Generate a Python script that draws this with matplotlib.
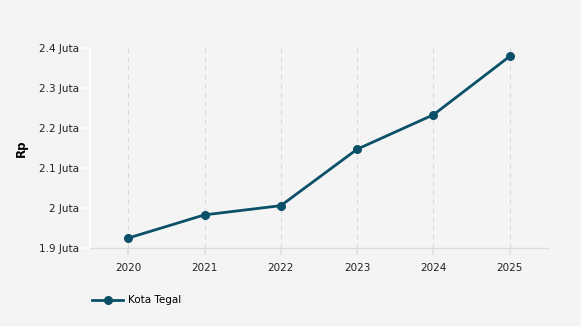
import matplotlib.pyplot as plt

years = [2020, 2021, 2022, 2023, 2024, 2025]
values = [1.925, 1.983, 2.006, 2.147, 2.233, 2.379]
y_ticks = [1.9, 2.0, 2.1, 2.2, 2.3, 2.4]
y_labels = ['1.9 Juta', '2 Juta', '2.1 Juta', '2.2 Juta', '2.3 Juta', '2.4 Juta']

bg = '#f4f4f4'
line_color = '#0b5068'

fig = plt.figure(figsize=(5.81, 3.26), dpi=100, facecolor=bg)
ax = fig.add_axes([0.155, 0.239, 0.788, 0.614], facecolor=bg)

ax.plot(years, values, color=line_color, linewidth=2.0, marker='o',
        markersize=5.5, label='Kota Tegal', zorder=3)

ax.set_xlim(2019.5, 2025.5)
ax.set_ylim(1.9, 2.4)
ax.set_xticks(years)
ax.set_xticklabels([str(y) for y in years], fontsize=7.5)
ax.set_yticks(y_ticks)
ax.set_yticklabels(y_labels, fontsize=7.5)

ax.grid(axis='x', color='#d8d8d8', linestyle=(0, (4, 4)), linewidth=0.8)
ax.grid(axis='y', visible=False)

for side in ['top', 'right']:
    ax.spines[side].set_visible(False)
ax.spines['left'].set_color('white')
ax.spines['left'].set_linewidth(1.5)
ax.spines['bottom'].set_color('#dcdcdc')
ax.spines['bottom'].set_linewidth(1)

ax.tick_params(axis='y', colors='white', length=5, width=1.2, labelcolor='#222222', pad=3)
ax.tick_params(axis='x', colors='#e0e0e0', length=5, width=1.2, labelcolor='#222222', pad=6)

ax.set_ylabel('Rp', fontsize=8.5, fontweight='bold', labelpad=8)

leg = fig.legend(loc='lower left', bbox_to_anchor=(0.142, 0.035), frameon=False,
                 fontsize=7.5, handlelength=3, handletextpad=0.5)

plt.savefig('out.png', dpi=100, facecolor=bg)
